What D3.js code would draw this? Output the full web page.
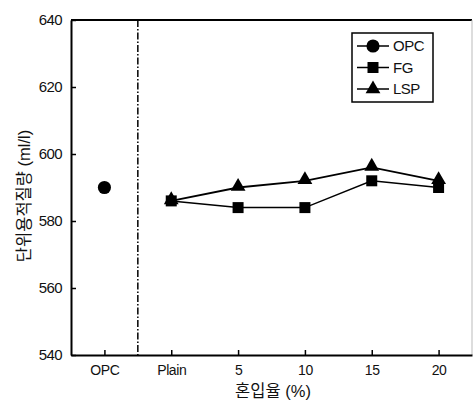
<!DOCTYPE html>
<html>
<head>
<meta charset="utf-8">
<script src="https://cdn.jsdelivr.net/npm/d3@7"></script>
<style>
  html, body { margin: 0; padding: 0; background: #fff; }
  svg { display: block; }
  text { font-family: "Liberation Sans", Arial, "Noto Sans CJK KR", sans-serif; fill: #111; }
  .kr { font-family: "Liberation Sans", "Noto Sans CJK KR", sans-serif; }
</style>
</head>
<body>
<svg id="chart" width="473" height="401"></svg>
<script>
// Categories along the x axis
const categories = ["OPC", "Plain", "5", "10", "15", "20"];
// Reference mix (single point)
const opcValues = [{ cat: "OPC", v: 590 }];
// FG replacement series
const fgCats = ["Plain", "5", "10", "15", "20"];
const fgValues = [586, 584, 584, 592, 590];
// Limestone powder series
const lspCats = ["Plain", "5", "10", "15", "20"];
const lspValues = [586, 590, 592, 596, 592];
// Y axis ticks
const yTicks = [540, 560, 580, 600, 620, 640];
const legendItems = ["OPC", "FG", "LSP"];

(function () {
  const svg = d3.select("#chart");
  const pLeft = 71, pRight = 472, pTop = 20, pBottom = 355;

  const x = d3.scalePoint().domain(categories).range([pLeft, pRight]).padding(0.5);
  const y = d3.scaleLinear().domain([540, 640]).range([pBottom, pTop]);

  // Frame: top border, light right border
  svg.append("line").attr("x1", pLeft).attr("x2", pRight).attr("y1", pTop).attr("y2", pTop)
    .attr("stroke", "#000").attr("stroke-width", 2);
  svg.append("line").attr("x1", pRight).attr("x2", pRight).attr("y1", pTop).attr("y2", pBottom)
    .attr("stroke", "#bbb").attr("stroke-width", 1);

  // Y axis with inward ticks
  const yAxis = svg.append("g").attr("transform", `translate(${pLeft},0)`)
    .call(d3.axisLeft(y).tickValues(yTicks).tickSizeInner(-5).tickSizeOuter(0).tickPadding(9));
  yAxis.select(".domain").attr("stroke", "#000").attr("stroke-width", 2);
  yAxis.selectAll(".tick line").attr("stroke-width", 1.5);
  yAxis.selectAll(".tick text").attr("font-size", 15).attr("letter-spacing", -0.6);

  // X axis with inward ticks
  const xAxis = svg.append("g").attr("transform", `translate(0,${pBottom})`)
    .call(d3.axisBottom(x).tickSizeInner(-5).tickSizeOuter(0).tickPadding(10));
  xAxis.select(".domain").attr("stroke", "#000").attr("stroke-width", 2);
  xAxis.selectAll(".tick line").attr("stroke-width", 1.5);
  xAxis.selectAll(".tick text").attr("font-size", 14).attr("letter-spacing", -0.4);

  // Separator between the reference mix and the blended mixes
  const sepX = (x("OPC") + x("Plain")) / 2;
  svg.append("line").attr("x1", sepX).attr("x2", sepX).attr("y1", pTop).attr("y2", pBottom)
    .attr("stroke", "#000").attr("stroke-width", 1.5).attr("stroke-dasharray", "7,2,1.5,2");

  // Axis titles
  svg.append("text").attr("class", "kr").attr("x", 273).attr("y", 397)
    .attr("text-anchor", "middle").attr("font-size", 16.5).text("혼입율 (%)");
  svg.append("text").attr("class", "kr")
    .attr("transform", `translate(30,196) rotate(-90)`)
    .attr("text-anchor", "middle").attr("font-size", 16.5).text("단위용적질량 (ml/l)");

  const line = d3.line().x(d => x(d.cat)).y(d => y(d.v));
  const fgData = fgCats.map((c, i) => ({ cat: c, v: fgValues[i] }));
  const lspData = lspCats.map((c, i) => ({ cat: c, v: lspValues[i] }));

  svg.append("path").datum(fgData).attr("d", line).attr("fill", "none")
    .attr("stroke", "#000").attr("stroke-width", 1.5);
  svg.append("path").datum(lspData).attr("d", line).attr("fill", "none")
    .attr("stroke", "#000").attr("stroke-width", 1.8);

  const sq = d3.symbol().type(d3.symbolSquare).size(121);
  const tri = d3.symbol().type(d3.symbolTriangle).size(95);
  const circ = d3.symbol().type(d3.symbolCircle).size(135);

  svg.selectAll(".fg").data(fgData).join("path").attr("class", "fg")
    .attr("d", sq).attr("transform", d => `translate(${x(d.cat)},${y(d.v)})`).attr("fill", "#000");
  svg.selectAll(".lsp").data(lspData).join("path").attr("class", "lsp")
    .attr("d", tri).attr("transform", d => `translate(${x(d.cat)},${y(d.v) - 1})`).attr("fill", "#000");
  svg.selectAll(".opc").data(opcValues).join("path").attr("class", "opc")
    .attr("d", circ).attr("transform", d => `translate(${x(d.cat)},${y(d.v)})`).attr("fill", "#000");

  // Legend
  const lg = svg.append("g");
  lg.append("rect").attr("x", 352).attr("y", 33).attr("width", 81).attr("height", 69)
    .attr("fill", "#fff").attr("stroke", "#000").attr("stroke-width", 1.5);
  const markers = [circ, sq, tri];
  legendItems.forEach((name, i) => {
    const ly = 46 + i * 21.5;
    lg.append("line").attr("x1", 357).attr("x2", 389).attr("y1", ly).attr("y2", ly)
      .attr("stroke", "#000").attr("stroke-width", 1.5);
    lg.append("path").attr("d", markers[i]).attr("transform", `translate(373,${ly})`).attr("fill", "#000");
    lg.append("text").attr("x", 393).attr("y", ly).attr("dy", "0.36em")
      .attr("font-size", 15).attr("letter-spacing", -0.5).text(name);
  });
})();
</script>
</body>
</html>
